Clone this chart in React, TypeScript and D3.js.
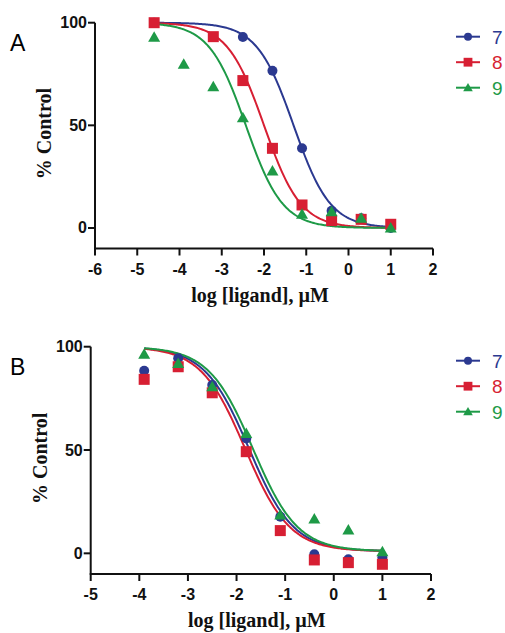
import React from 'react';
import * as d3 from 'd3';

// shared x values (log [ligand], µM)
const xA = [-4.6, -3.9, -3.2, -2.5, -1.8, -1.1, -0.4, 0.3, 1.0];
const xB = [-3.9, -3.2, -2.5, -1.8, -1.1, -0.4, 0.3, 1.0];

const seriesNames = ['7', '8', '9'];
const colors = ['#2b3990', '#d71f33', '#1e9a47'];
const shapes = ['circle', 'square', 'triangle'];

// Panel A read values (% control), null = no visible point
const a7 = [100, null, null, 93, 76.6, 38.8, 8.4, 4.7, 0];
const a8 = [100, null, 93.2, 71.8, 38.8, 11.2, 3.6, 4.2, 1.8];
const a9 = [92.9, 79.7, 68.8, 53.7, 27.8, 6.7, 7.9, 4.7, 0];

// Panel B read values
const b7 = [88.4, 94.4, 81.5, 55.6, 17.7, -0.5, -2.9, -2];
const b8 = [84.2, 90.3, 77.7, 49.2, 11, -3.2, -4.5, -5.3];
const b9 = [96.3, 91.9, 80.6, 58, 18.5, 16.6, 11.3, 0.8];

// fitted curves: [logIC50, hill, bottom]
const fitA = [[-1.3, 1.0, 0], [-2.0, 1.0, 0], [-2.43, 1.0, 0]];
const fitB = [[-1.74, 0.95, 1], [-1.82, 0.95, 1], [-1.66, 0.95, 1]];

const xTicksA = [-6, -5, -4, -3, -2, -1, 0, 1, 2];
const xTicksB = [-5, -4, -3, -2, -1, 0, 1, 2];
const yTicks = [0, 50, 100];

const SANS = 'Liberation Sans, Arial, sans-serif';
const SERIF = 'Liberation Serif, Times New Roman, serif';

type PanelProps = {
  label: string;
  xs: number[];
  values: (number | null)[][];
  fits: number[][];
  xDomain: [number, number];
  xTicks: number[];
  left: number;
  right: number;
  top: number;
  bottom: number;
};

function Marker({ shape, x, y, color, s = 1 }: { shape: string; x: number; y: number; color: string; s?: number }) {
  if (shape === 'circle') return <circle cx={x} cy={y} r={5 * s} fill={color} />;
  if (shape === 'square') return <rect x={x - 5.5 * s} y={y - 5.5 * s} width={11 * s} height={11 * s} fill={color} />;
  return <path d={`M${x},${y - 6 * s}L${x + 6 * s},${y + 4.5 * s}L${x - 6 * s},${y + 4.5 * s}Z`} fill={color} />;
}

function Panel({ label, xs, values, fits, xDomain, xTicks, left, right, top, bottom }: PanelProps) {
  const x = d3.scaleLinear().domain(xDomain).range([left, right]);
  const y = d3.scaleLinear().domain([-10, 100]).range([bottom, top]);
  const xMin = xs[0];
  const xMax = xs[xs.length - 1];
  const grid = d3.range(0, 201).map(i => xMin + (xMax - xMin) * i / 200);
  const line = d3.line<number[]>().x(d => x(d[0])).y(d => y(d[1]));
  const legendTop = top + 14;

  return (
    <g>
      <text x={10} y={top + 28} fontFamily={SANS} fontSize={23}>{label}</text>
      {/* axes */}
      <line x1={left} x2={left} y1={top} y2={bottom} stroke="#111" strokeWidth={2} />
      <line x1={left - 1} x2={right} y1={bottom} y2={bottom} stroke="#111" strokeWidth={2} />
      {yTicks.map(t => (
        <g key={t}>
          <line x1={left - 7} x2={left} y1={y(t)} y2={y(t)} stroke="#111" strokeWidth={2} />
          <text x={left - 8} y={y(t) + 5.5} textAnchor="end" fontFamily={SANS}
            fontWeight="bold" fontSize={16} fill="#111">{t}</text>
        </g>
      ))}
      {xTicks.map(t => (
        <g key={t}>
          <line x1={x(t)} x2={x(t)} y1={bottom} y2={bottom + 7} stroke="#111" strokeWidth={2} />
          <text x={x(t)} y={bottom + 26} textAnchor="middle" fontFamily={SANS}
            fontWeight="bold" fontSize={16} fill="#111">{t}</text>
        </g>
      ))}
      <text x={(left + right) / 2 - 4} y={bottom + 53} textAnchor="middle"
        fontFamily={SERIF} fontWeight="bold" fontSize={20} fill="#111">
        log [ligand], µM
      </text>
      <text transform={`translate(${left - 44},${(top + bottom) / 2 - 2}) rotate(-90)`} textAnchor="middle"
        fontFamily={SERIF} fontWeight="bold" fontSize={20} fill="#111">
        % Control
      </text>
      {/* fitted curves */}
      {fits.map((f, i) => {
        const pts = grid.map(v => [v, f[2] + (100 - f[2]) / (1 + Math.pow(10, (v - f[0]) * f[1]))]);
        return <path key={i} d={line(pts) || ''} fill="none" stroke={colors[i]} strokeWidth={2} />;
      })}
      {/* points */}
      {values.map((vals, i) => (
        <g key={i}>
          {vals.map((v, j) => v === null ? null : (
            <Marker key={j} shape={shapes[i]} x={x(xs[j])} y={y(v)} color={colors[i]} />
          ))}
        </g>
      ))}
      {/* legend */}
      {seriesNames.map((n, i) => {
        const ly = legendTop + i * 25.5;
        return (
          <g key={n}>
            <line x1={456} x2={480} y1={ly} y2={ly} stroke={colors[i]} strokeWidth={2} />
            <Marker shape={shapes[i]} x={468} y={ly} color={colors[i]} s={0.8} />
            <text x={492} y={ly + 7} fontFamily={SANS} fontSize={19} fill={colors[i]}>{n}</text>
          </g>
        );
      })}
    </g>
  );
}

export default function App() {
  return (
    <div style={{ position: 'absolute', left: 0, top: 0 }}>
      <svg width={505} height={633} style={{ display: 'block', background: '#fff' }}>
        <Panel label="A" xs={xA} values={[a7, a8, a9]} fits={fitA} xDomain={[-6, 2]} xTicks={xTicksA}
          left={95} right={433} top={22.7} bottom={248.5} />
        <Panel label="B" xs={xB} values={[b7, b8, b9]} fits={fitB} xDomain={[-5, 2]} xTicks={xTicksB}
          left={90.7} right={431} top={346.7} bottom={574} />
      </svg>
    </div>
  );
}
